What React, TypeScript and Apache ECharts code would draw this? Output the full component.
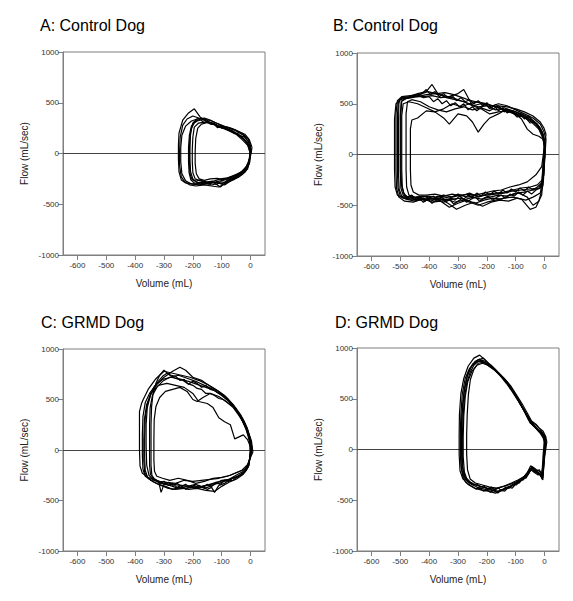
import React, { useEffect, useRef } from "react";
import * as echarts from "echarts";

type Pt = [number, number];

// ---- tick labels ----
const xTicks = [-600, -500, -400, -300, -200, -100, 0];
const yTicks = [-1000, -500, 0, 500, 1000];

// ---- panel titles ----
const titles = ["A: Control Dog", "B: Control Dog", "C: GRMD Dog", "D: GRMD Dog"];

// ---- Panel A loops (volume mL, flow mL/sec) ----
const loopA1: Pt[] = [[0,20],[-10,100],[-30,160],[-60,210],[-90,250],[-120,280],[-150,310],[-175,360],[-195,440],[-215,400],[-235,330],[-248,200],[-250,80],[-250,-60],[-248,-180],[-240,-260],[-225,-290],[-200,-300],[-175,-300],[-150,-290],[-120,-280],[-90,-260],[-60,-230],[-35,-190],[-15,-130],[-3,-50],[0,20]];
const loopA2: Pt[] = [[2,40],[-8,120],[-25,180],[-55,230],[-85,260],[-110,290],[-135,320],[-160,340],[-180,345],[-205,320],[-225,270],[-238,180],[-242,60],[-242,-80],[-238,-200],[-225,-270],[-205,-300],[-180,-310],[-150,-300],[-125,-285],[-100,-300],[-75,-260],[-45,-220],[-20,-160],[-5,-80],[2,40]];
const loopA3: Pt[] = [[5,60],[-5,140],[-20,190],[-45,220],[-70,250],[-95,270],[-120,300],[-140,330],[-160,350],[-185,340],[-200,300],[-208,200],[-210,80],[-210,-60],[-208,-180],[-200,-250],[-185,-285],[-160,-290],[-135,-280],[-110,-290],[-90,-310],[-65,-260],[-40,-230],[-18,-180],[-5,-100],[5,60]];
const loopA4: Pt[] = [[0,90],[-10,150],[-30,200],[-55,235],[-80,260],[-100,250],[-118,280],[-140,300],[-160,310],[-180,300],[-195,260],[-200,160],[-202,40],[-202,-80],[-200,-190],[-192,-250],[-175,-270],[-150,-280],[-125,-270],[-105,-250],[-80,-240],[-55,-220],[-30,-180],[-12,-150],[-3,-90],[0,90]];
const loopA5: Pt[] = [[3,30],[-12,110],[-35,170],[-60,220],[-85,245],[-110,265],[-130,295],[-150,305],[-170,290],[-183,250],[-190,150],[-192,20],[-192,-100],[-188,-200],[-178,-250],[-160,-265],[-140,-250],[-115,-245],[-95,-260],[-70,-230],[-45,-200],[-25,-170],[-8,-100],[3,30]];
const loopA6: Pt[] = [[0,0],[-10,80],[-30,140],[-50,190],[-80,230],[-105,260],[-130,290],[-155,320],[-180,350],[-200,370],[-220,340],[-235,280],[-244,160],[-246,20],[-246,-120],[-240,-230],[-228,-280],[-210,-310],[-190,-320],[-160,-310],[-135,-320],[-110,-330],[-85,-290],[-60,-260],[-30,-210],[-10,-150],[0,0]];
const loopA7: Pt[] = [[0,40],[-6,110],[-15,140],[-25,170],[-35,165],[-45,200],[-55,195],[-70,225],[-85,240],[-100,265],[-115,255],[-125,285],[-140,290],[-150,320],[-160,300],[-172,330],[-185,320],[-195,300],[-205,250],[-210,150],[-212,30],[-212,-100],[-210,-200],[-203,-255],[-190,-275],[-175,-260],[-160,-280],[-145,-300],[-130,-285],[-118,-305],[-105,-280],[-90,-285],[-75,-250],[-60,-245],[-48,-215],[-35,-205],[-22,-160],[-10,-130],[-4,-60],[0,40]];
const loopA8: Pt[] = [[-2,10],[-10,90],[-20,130],[-32,175],[-45,190],[-60,215],[-72,235],[-88,250],[-100,275],[-112,270],[-128,300],[-142,310],[-155,335],[-168,345],[-182,330],[-195,310],[-205,270],[-212,180],[-215,60],[-215,-80],[-213,-190],[-207,-260],[-195,-290],[-180,-295],[-165,-280],[-150,-295],[-135,-310],[-120,-300],[-105,-330],[-92,-300],[-78,-270],[-62,-255],[-48,-230],[-32,-200],[-18,-170],[-7,-110],[-2,10]];

// ---- Panel B loops ----
const loopB1: Pt[] = [[0,100],[-5,200],[-20,280],[-50,340],[-80,380],[-110,420],[-140,460],[-170,440],[-200,480],[-230,470],[-260,500],[-290,530],[-320,560],[-350,580],[-380,600],[-410,590],[-440,570],[-470,560],[-500,540],[-515,500],[-520,350],[-520,100],[-520,-150],[-518,-320],[-510,-400],[-490,-430],[-460,-440],[-430,-450],[-400,-430],[-370,-450],[-340,-440],[-310,-470],[-280,-450],[-250,-420],[-220,-440],[-190,-420],[-160,-400],[-130,-410],[-100,-380],[-70,-370],[-40,-350],[-15,-330],[-3,-200],[0,100]];
const loopB2: Pt[] = [[5,150],[-3,230],[-15,300],[-40,360],[-70,400],[-100,440],[-130,480],[-160,500],[-190,470],[-220,500],[-250,480],[-280,520],[-310,540],[-340,560],[-370,600],[-390,690],[-410,620],[-440,600],[-470,570],[-495,560],[-507,520],[-510,380],[-510,100],[-510,-150],[-508,-330],[-500,-410],[-480,-440],[-450,-460],[-420,-430],[-390,-470],[-360,-460],[-330,-520],[-300,-480],[-270,-450],[-240,-480],[-210,-450],[-180,-430],[-150,-440],[-120,-400],[-90,-380],[-60,-420],[-40,-500],[-20,-460],[-5,-300],[5,150]];
const loopB3: Pt[] = [[0,50],[-5,150],[-20,180],[-40,200],[-60,250],[-80,350],[-100,400],[-130,430],[-160,420],[-190,400],[-220,450],[-250,480],[-280,640],[-300,600],[-330,570],[-360,560],[-390,580],[-420,570],[-450,570],[-480,555],[-497,520],[-500,380],[-500,100],[-500,-150],[-498,-330],[-490,-400],[-470,-420],[-440,-430],[-410,-410],[-380,-420],[-350,-400],[-320,-420],[-290,-400],[-260,-390],[-230,-410],[-200,-400],[-170,-390],[-140,-380],[-110,-360],[-80,-350],[-50,-340],[-20,-330],[-5,-250],[0,50]];
const loopB4: Pt[] = [[3,80],[-3,180],[-15,260],[-40,330],[-70,380],[-100,420],[-130,450],[-160,400],[-190,360],[-210,300],[-230,220],[-250,320],[-270,380],[-300,400],[-330,300],[-350,360],[-380,420],[-410,460],[-440,500],[-470,520],[-490,500],[-495,380],[-495,100],[-495,-150],[-493,-320],[-485,-410],[-465,-440],[-440,-420],[-410,-450],[-380,-430],[-350,-470],[-320,-440],[-290,-430],[-260,-470],[-230,-500],[-200,-470],[-170,-450],[-140,-430],[-110,-420],[-80,-440],[-50,-540],[-30,-520],[-10,-400],[3,80]];
const loopB5: Pt[] = [[5,200],[-2,260],[-15,320],[-40,380],[-70,420],[-100,450],[-130,470],[-160,480],[-190,430],[-220,460],[-250,440],[-280,470],[-310,450],[-340,420],[-370,440],[-400,470],[-430,520],[-460,540],[-475,520],[-480,400],[-480,100],[-480,-150],[-478,-320],[-470,-400],[-450,-420],[-420,-410],[-390,-440],[-360,-410],[-330,-430],[-300,-390],[-270,-420],[-240,-400],[-210,-380],[-180,-360],[-150,-350],[-120,-320],[-90,-300],[-60,-270],[-30,-200],[-10,-120],[5,200]];
const loopB6: Pt[] = [[0,120],[-8,220],[-25,300],[-50,360],[-80,400],[-110,430],[-140,440],[-170,470],[-200,500],[-230,520],[-260,500],[-290,470],[-320,500],[-350,450],[-380,420],[-410,430],[-440,360],[-460,340],[-465,250],[-465,50],[-465,-150],[-463,-300],[-455,-370],[-435,-400],[-410,-400],[-380,-390],[-350,-410],[-320,-390],[-290,-410],[-260,-380],[-230,-420],[-200,-390],[-170,-380],[-140,-370],[-110,-350],[-80,-330],[-50,-320],[-25,-300],[-8,-250],[0,120]];
const loopB7: Pt[] = [[2,60],[-6,160],[-20,250],[-45,320],[-75,370],[-105,400],[-135,430],[-165,470],[-195,490],[-225,510],[-255,530],[-285,560],[-315,590],[-345,610],[-375,600],[-405,620],[-435,590],[-465,580],[-495,570],[-510,530],[-515,400],[-515,100],[-515,-150],[-513,-330],[-505,-420],[-485,-460],[-455,-470],[-425,-440],[-395,-460],[-365,-430],[-335,-480],[-305,-540],[-275,-500],[-245,-470],[-215,-510],[-185,-470],[-155,-450],[-125,-460],[-95,-430],[-65,-450],[-40,-420],[-15,-380],[-3,-200],[2,60]];
const loopB8: Pt[] = [[3,100],[-5,180],[-15,230],[-28,300],[-42,330],[-55,380],[-70,350],[-85,400],[-100,390],[-115,430],[-130,410],[-145,460],[-160,430],[-175,480],[-190,450],[-205,500],[-220,460],[-235,430],[-250,470],[-265,440],[-280,500],[-295,470],[-310,510],[-325,480],[-340,530],[-355,500],[-370,550],[-385,520],[-400,570],[-420,560],[-440,590],[-460,570],[-480,560],[-500,550],[-505,500],[-506,300],[-506,50],[-506,-200],[-504,-340],[-495,-410],[-480,-430],[-465,-410],[-450,-450],[-435,-430],[-420,-470],[-405,-440],[-390,-480],[-375,-450],[-360,-420],[-345,-460],[-330,-440],[-315,-490],[-300,-460],[-285,-430],[-270,-470],[-255,-440],[-240,-420],[-225,-460],[-210,-430],[-195,-410],[-180,-450],[-165,-420],[-150,-400],[-135,-430],[-120,-390],[-105,-410],[-90,-370],[-75,-400],[-60,-360],[-45,-390],[-30,-350],[-15,-330],[-5,-220],[3,100]];
const loopB9: Pt[] = [[0,80],[-8,200],[-20,260],[-35,320],[-50,310],[-65,360],[-80,380],[-95,370],[-110,410],[-125,440],[-140,420],[-155,470],[-170,490],[-185,460],[-200,510],[-215,480],[-230,530],[-245,500],[-260,540],[-275,520],[-290,560],[-305,530],[-320,580],[-335,560],[-350,600],[-365,570],[-380,620],[-395,590],[-410,640],[-425,600],[-440,580],[-460,560],[-480,550],[-495,530],[-498,400],[-498,150],[-498,-100],[-496,-300],[-488,-380],[-475,-420],[-460,-400],[-445,-440],[-430,-420],[-415,-460],[-400,-430],[-385,-410],[-370,-450],[-355,-420],[-340,-460],[-325,-430],[-310,-450],[-295,-410],[-280,-440],[-265,-400],[-250,-420],[-235,-380],[-220,-410],[-205,-370],[-190,-400],[-175,-360],[-160,-390],[-145,-350],[-130,-380],[-115,-340],[-100,-370],[-85,-330],[-70,-360],[-55,-320],[-40,-350],[-25,-320],[-10,-280],[0,80]];

// ---- Panel C loops ----
const loopC1: Pt[] = [[0,-50],[-3,80],[-15,200],[-35,330],[-60,450],[-90,540],[-120,600],[-150,650],[-180,690],[-210,720],[-240,740],[-270,760],[-300,780],[-330,700],[-355,600],[-372,500],[-378,460],[-385,380],[-385,200],[-385,0],[-383,-160],[-375,-230],[-355,-270],[-330,-300],[-300,-330],[-270,-340],[-240,-350],[-210,-360],[-180,-370],[-150,-350],[-120,-320],[-90,-300],[-60,-280],[-35,-250],[-15,-200],[-5,-120],[0,-50]];
const loopC2: Pt[] = [[5,0],[0,100],[-10,180],[-30,300],[-55,420],[-80,510],[-110,580],[-140,630],[-170,690],[-200,720],[-225,790],[-245,820],[-270,780],[-300,720],[-325,650],[-345,560],[-360,450],[-368,300],[-370,100],[-370,-100],[-367,-220],[-355,-280],[-335,-320],[-310,-350],[-285,-380],[-260,-390],[-230,-380],[-200,-370],[-170,-360],[-140,-340],[-110,-330],[-80,-300],[-50,-250],[-25,-210],[-8,-160],[5,0]];
const loopC3: Pt[] = [[0,30],[-10,100],[-25,150],[-40,130],[-55,110],[-70,250],[-90,280],[-110,320],[-130,420],[-150,460],[-180,480],[-200,560],[-230,620],[-260,640],[-290,660],[-320,640],[-345,560],[-358,420],[-362,250],[-362,50],[-360,-150],[-352,-250],[-335,-300],[-310,-330],[-280,-350],[-250,-380],[-220,-360],[-190,-340],[-160,-380],[-130,-350],[-100,-300],[-70,-290],[-45,-260],[-20,-220],[-5,-150],[0,30]];
const loopC4: Pt[] = [[8,-20],[3,90],[-8,180],[-25,290],[-50,400],[-75,480],[-100,540],[-130,600],[-160,640],[-190,680],[-220,710],[-250,740],[-280,720],[-305,680],[-325,620],[-340,540],[-348,420],[-350,250],[-350,50],[-350,-150],[-347,-240],[-335,-290],[-315,-310],[-290,-320],[-260,-330],[-230,-300],[-200,-310],[-170,-300],[-140,-290],[-110,-280],[-80,-260],[-55,-230],[-30,-200],[-12,-150],[8,-20]];
const loopC5: Pt[] = [[3,50],[-5,150],[-20,250],[-40,340],[-60,420],[-85,480],[-110,530],[-140,560],[-165,520],[-185,480],[-200,500],[-220,580],[-245,620],[-270,600],[-295,580],[-315,520],[-328,430],[-334,300],[-335,100],[-335,-100],[-333,-210],[-325,-260],[-305,-280],[-280,-300],[-250,-280],[-220,-300],[-190,-330],[-160,-310],[-130,-280],[-100,-270],[-70,-250],[-45,-220],[-20,-190],[-5,-130],[3,50]];
const loopC6: Pt[] = [[2,20],[-5,120],[-18,230],[-40,360],[-65,460],[-95,540],[-125,590],[-155,620],[-185,650],[-215,680],[-245,700],[-275,720],[-305,700],[-330,640],[-350,560],[-365,470],[-373,330],[-375,150],[-375,-50],[-373,-190],[-365,-260],[-345,-300],[-320,-340],[-295,-360],[-270,-390],[-245,-370],[-215,-390],[-185,-380],[-155,-400],[-125,-410],[-100,-360],[-75,-320],[-50,-290],[-25,-240],[-8,-170],[2,20]];
const loopC7: Pt[] = [[5,20],[-2,120],[-12,220],[-25,300],[-40,370],[-52,420],[-65,460],[-80,500],[-95,540],[-110,560],[-125,590],[-140,600],[-155,640],[-170,620],[-185,660],[-200,680],[-215,650],[-230,700],[-245,690],[-260,730],[-275,740],[-290,760],[-305,730],[-320,680],[-335,620],[-348,540],[-358,450],[-365,320],[-367,120],[-367,-80],[-365,-200],[-357,-270],[-345,-300],[-330,-290],[-315,-330],[-300,-310],[-285,-350],[-270,-330],[-255,-370],[-240,-350],[-225,-390],[-210,-360],[-195,-380],[-180,-350],[-165,-370],[-150,-340],[-135,-360],[-120,-320],[-105,-340],[-90,-300],[-75,-310],[-60,-270],[-45,-270],[-30,-230],[-18,-210],[-8,-150],[5,20]];
const loopC8: Pt[] = [[0,-20],[-4,100],[-10,200],[-22,280],[-35,350],[-50,400],[-65,440],[-80,470],[-95,500],[-110,510],[-125,540],[-140,560],[-155,560],[-170,600],[-185,610],[-200,640],[-220,660],[-240,700],[-260,710],[-280,740],[-300,790],[-315,740],[-328,660],[-338,560],[-343,430],[-345,250],[-345,50],[-345,-150],[-342,-250],[-332,-290],[-318,-320],[-310,-420],[-300,-340],[-285,-320],[-270,-350],[-255,-330],[-240,-360],[-225,-340],[-210,-370],[-195,-350],[-180,-380],[-165,-360],[-150,-390],[-135,-370],[-125,-420],[-110,-350],[-90,-330],[-75,-300],[-60,-300],[-45,-260],[-30,-240],[-15,-200],[-5,-120],[0,-20]];

// ---- Panel D loops ----
const loopD1: Pt[] = [[0,100],[-8,150],[-20,180],[-35,230],[-50,260],[-65,350],[-80,430],[-100,530],[-120,620],[-140,690],[-160,750],[-180,800],[-200,840],[-220,870],[-240,860],[-260,800],[-275,700],[-285,550],[-290,350],[-292,150],[-292,-50],[-288,-200],[-278,-280],[-260,-330],[-235,-370],[-210,-390],[-185,-400],[-160,-410],[-135,-380],[-110,-350],[-85,-310],[-65,-260],[-50,-190],[-40,-210],[-25,-230],[-12,-260],[-8,-200],[-5,-50],[0,100]];
const loopD2: Pt[] = [[5,120],[-5,180],[-18,210],[-30,250],[-45,280],[-60,360],[-78,450],[-98,540],[-118,630],[-140,700],[-160,760],[-185,820],[-205,880],[-225,930],[-245,900],[-265,820],[-280,700],[-290,550],[-295,350],[-296,150],[-296,-50],[-293,-210],[-283,-290],[-265,-340],[-242,-380],[-218,-400],[-195,-410],[-170,-430],[-148,-400],[-125,-380],[-100,-340],[-80,-300],[-60,-230],[-48,-160],[-35,-200],[-20,-230],[-8,-280],[-3,-150],[5,120]];
const loopD3: Pt[] = [[3,60],[-6,130],[-18,180],[-32,220],[-48,270],[-62,340],[-78,420],[-97,510],[-117,600],[-137,680],[-157,740],[-177,790],[-197,830],[-215,850],[-235,830],[-252,770],[-266,670],[-275,520],[-280,330],[-282,130],[-282,-70],[-278,-220],[-268,-300],[-250,-340],[-225,-360],[-200,-380],[-175,-390],[-150,-370],[-125,-350],[-100,-320],[-78,-280],[-58,-240],[-45,-180],[-32,-220],[-18,-240],[-6,-300],[-2,-100],[3,60]];
const loopD4: Pt[] = [[8,80],[0,140],[-12,170],[-28,210],[-42,260],[-58,330],[-75,410],[-93,500],[-112,590],[-132,670],[-152,730],[-172,780],[-192,820],[-210,860],[-230,850],[-245,790],[-257,690],[-264,540],[-268,350],[-270,150],[-270,-50],[-267,-200],[-258,-290],[-240,-330],[-215,-350],[-190,-370],[-165,-380],[-140,-360],[-115,-330],[-92,-300],[-72,-270],[-55,-210],[-42,-170],[-28,-200],[-15,-220],[-5,-250],[0,-80],[8,80]];
const loopD5: Pt[] = [[2,40],[-4,110],[-15,160],[-28,200],[-42,240],[-57,300],[-73,390],[-92,480],[-112,570],[-132,650],[-152,720],[-172,780],[-192,840],[-212,900],[-232,880],[-250,840],[-266,750],[-278,600],[-285,400],[-288,200],[-288,0],[-285,-170],[-275,-270],[-258,-320],[-238,-350],[-215,-370],[-190,-390],[-165,-420],[-140,-390],[-118,-360],[-95,-320],[-75,-290],[-58,-250],[-46,-190],[-34,-230],[-22,-250],[-10,-240],[-4,-120],[2,40]];
const loopD6: Pt[] = [[5,90],[-3,140],[-10,170],[-22,190],[-35,230],[-48,260],[-58,320],[-70,380],[-84,450],[-98,520],[-112,590],[-126,650],[-140,700],[-155,740],[-170,790],[-185,830],[-200,860],[-215,880],[-230,870],[-245,830],[-258,760],[-270,650],[-278,500],[-283,300],[-285,100],[-285,-100],[-282,-230],[-272,-300],[-260,-330],[-248,-350],[-235,-340],[-222,-370],[-210,-360],[-198,-390],[-185,-370],[-172,-400],[-160,-380],[-148,-410],[-135,-370],[-122,-380],[-110,-340],[-98,-350],[-86,-310],[-74,-300],[-62,-260],[-52,-220],[-45,-170],[-38,-190],[-28,-210],[-18,-200],[-10,-250],[-6,-280],[-3,-100],[5,90]];
const loopD7: Pt[] = [[0,120],[-6,160],[-16,200],[-30,240],[-44,270],[-55,300],[-68,370],[-82,440],[-96,510],[-110,580],[-124,640],[-138,690],[-152,730],[-166,770],[-180,810],[-195,840],[-210,860],[-225,890],[-240,870],[-255,810],[-268,720],[-278,580],[-285,400],[-289,200],[-290,0],[-289,-160],[-284,-260],[-274,-320],[-262,-350],[-250,-370],[-238,-390],[-225,-380],[-212,-410],[-200,-400],[-188,-420],[-175,-400],[-162,-430],[-150,-400],[-138,-410],[-125,-370],[-112,-380],[-100,-340],[-88,-330],[-76,-290],[-64,-280],[-54,-230],[-46,-200],[-38,-220],[-26,-220],[-15,-240],[-8,-290],[-4,-200],[0,120]];

const panelLoops: Pt[][][] = [
  [loopA1, loopA2, loopA3, loopA4, loopA5, loopA6, loopA7, loopA8],
  [loopB1, loopB2, loopB3, loopB4, loopB5, loopB6, loopB7, loopB8, loopB9],
  [loopC1, loopC2, loopC3, loopC4, loopC5, loopC6, loopC7, loopC8],
  [loopD1, loopD2, loopD3, loopD4, loopD5, loopD6, loopD7],
];

const FONT = "'Liberation Sans', Arial, Helvetica, sans-serif";

// layout (pixels)
const grids = [
  { left: 63, top: 52, width: 202, height: 203 },
  { left: 357, top: 53, width: 202, height: 203 },
  { left: 63, top: 349, width: 202, height: 202 },
  { left: 357, top: 348, width: 202, height: 203 },
];
const titlePos = [
  { x: 40, y: 25 },
  { x: 333, y: 25 },
  { x: 41, y: 322 },
  { x: 335, y: 322 },
];

export default function App() {
  const ref = useRef<HTMLDivElement>(null);
  useEffect(() => {
    if (!ref.current) return;
    const chart = echarts.init(ref.current, null, { renderer: "svg" });
    const frame = "#7f7f7f";
    const xAxes = grids.map((_, i) => ({
      type: "value",
      gridIndex: i,
      min: -650,
      max: 50,
      name: "Volume (mL)",
      nameLocation: "middle",
      nameGap: 23,
      nameTextStyle: { fontFamily: FONT, fontSize: 10, color: "#222" },
      axisLine: { show: true, onZero: false, lineStyle: { color: frame, width: 1 } },
      axisTick: { show: true, length: 5, customValues: xTicks, lineStyle: { color: frame } },
      axisLabel: { customValues: xTicks, fontFamily: FONT, fontSize: 8, color: "#333", margin: 6 },
      splitLine: { show: false },
    }));
    const yAxes = grids.map((_, i) => ({
      type: "value",
      gridIndex: i,
      min: -1000,
      max: 1000,
      interval: 500,
      name: "Flow (mL/sec)",
      nameLocation: "middle",
      nameGap: 34,
      nameTextStyle: { fontFamily: FONT, fontSize: 10, color: "#222" },
      axisLine: { show: true, onZero: false, lineStyle: { color: frame, width: 1 } },
      axisTick: { show: true, length: 5, customValues: yTicks, lineStyle: { color: frame } },
      axisLabel: {
        customValues: yTicks,
        formatter: (v: number) => String(v),
        fontFamily: FONT,
        fontSize: 8,
        color: "#333",
        margin: 4,
      },
      splitLine: { show: false },
    }));
    const series: any[] = [];
    panelLoops.forEach((loops, gi) => {
      loops.forEach((loop, li) => {
        series.push({
          type: "line",
          xAxisIndex: gi,
          yAxisIndex: gi,
          data: loop,
          showSymbol: false,
          symbol: "none",
          smooth: false,
          lineStyle: { color: "#000", width: 1.2 },
          silent: true,
          z: 3,
          markLine:
            li === 0
              ? {
                  silent: true,
                  symbol: "none",
                  label: { show: false },
                  lineStyle: { color: "#444", width: 1, type: "solid" },
                  data: [{ yAxis: 0 }],
                  z: 2,
                }
              : undefined,
        });
      });
    });
    chart.setOption({
      animation: false,
      backgroundColor: "#fff",
      grid: grids.map((g) => ({ ...g, show: true, borderColor: frame, borderWidth: 1, containLabel: false })),
      xAxis: xAxes,
      yAxis: yAxes,
      graphic: titles.map((t, i) => ({
        type: "text",
        x: titlePos[i].x,
        y: titlePos[i].y,
        style: {
          text: t,
          font: `16px ${FONT}`,
          fill: "#000",
          verticalAlign: "middle",
          align: "left",
        },
      })),
      series,
    });
    return () => chart.dispose();
  }, []);
  return (
    <div
      ref={ref}
      style={{ position: "absolute", left: 0, top: 0, width: 573, height: 601 }}
    />
  );
}
